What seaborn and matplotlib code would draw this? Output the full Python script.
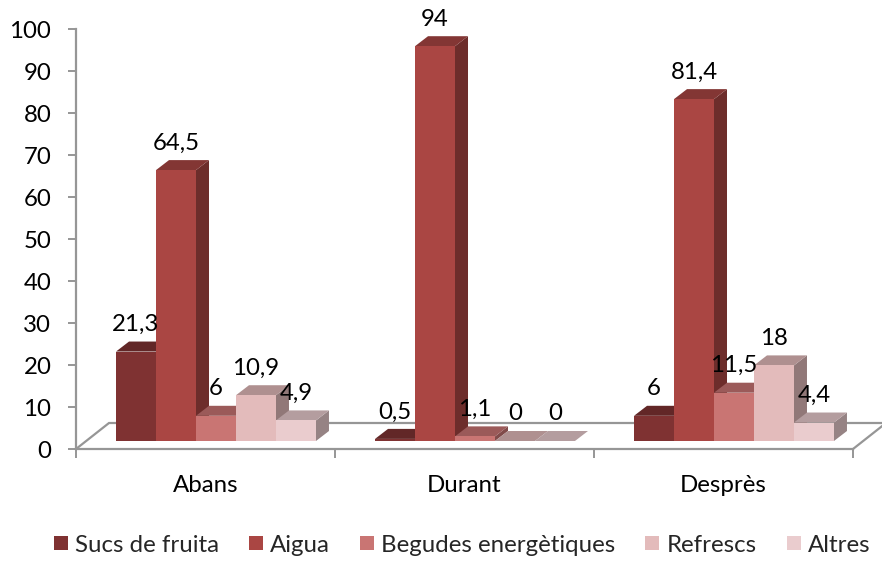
import pandas as pd
import seaborn as sns
import matplotlib.pyplot as plt
from matplotlib.colors import to_rgb
from matplotlib.patches import Polygon
from matplotlib.transforms import Affine2D

categories = ["Abans", "Durant", "Desprès"]
sucs = [21.3, 0.5, 6]
aigua = [64.5, 94, 81.4]
begudes = [6, 1.1, 11.5]
refrescs = [10.9, 0, 18]
altres = [4.9, 0, 4.4]
series_names = ["Sucs de fruita", "Aigua", "Begudes energètiques", "Refrescs", "Altres"]
colors = ["#7F3232", "#AA4643", "#C97573", "#E3BBBB", "#EACCCE"]
y_ticks = list(range(0, 101, 10))

GRAY = "#969696"
PX_X = 777 / 3  # pixels per category
PX_Y = 4.2      # pixels per y unit
FONT = 17.3


def shade(color, factor):
    return tuple(c * factor for c in to_rgb(color))


df = pd.DataFrame({
    "cat": categories * 5,
    "serie": [n for n in series_names for _ in categories],
    "val": sucs + aigua + begudes + refrescs + altres,
})

sns.set_style("white")
plt.rcParams['font.family'] = ['Lato', 'DejaVu Sans']

fig = plt.figure(figsize=(8.82, 5.65), dpi=100)
ax = fig.add_axes([76 / 882, (565 - 449) / 565, 777 / 882, 420 / 565])

sns.barplot(data=df, x="cat", y="val", hue="serie", order=categories, hue_order=series_names,
            palette=colors, saturation=1, width=0.772, gap=0, linewidth=0, ax=ax)

ax.set_xlim(-0.5, 2.5)
ax.set_ylim(0, 100)
ax.set_xlabel("")
ax.set_ylabel("")
ax.set_yticks(y_ticks)

# axes look: gray left/bottom lines, ticks outside
for side in ["top", "right"]:
    ax.spines[side].set_visible(False)
for side in ["left", "bottom"]:
    ax.spines[side].set_color(GRAY)
    ax.spines[side].set_linewidth(1.6)
ax.tick_params(axis='y', which='major', left=True, length=5.8, width=1.4, color=GRAY,
               labelsize=FONT, pad=12, labelcolor="black")
ax.tick_params(axis='x', which='major', bottom=False, labelsize=FONT, pad=15, labelcolor="black")
ax.set_xticks([-0.5, 0.5, 1.5, 2.5], minor=True)
ax.tick_params(axis='x', which='minor', bottom=True, length=6.5, width=1.4, color=GRAY)

# floor outline behind the bars
wall_dx = 33 / PX_X
wall_dy = 26 / PX_Y
ax.plot([-0.5, -0.5 + wall_dx, 2.5 + wall_dx, 2.5], [0, wall_dy, wall_dy, 0],
        color=GRAY, lw=1.6, clip_on=False, zorder=1, solid_joinstyle='miter')

# fake 3D: bars sit pushed back on the floor, side and top faces come from the bar geometry
push = ax.transData + Affine2D().translate(10.5, 8)
depth_x = 13 / PX_X
depth_y = 10 / PX_Y

bars = []
for container, color in zip(ax.containers, colors):
    for bar in container:
        bars.append((bar, color))
bars.sort(key=lambda b: b[0].get_x())

for i, (bar, color) in enumerate(bars):
    x0 = bar.get_x()
    x1 = x0 + bar.get_width()
    h = bar.get_height()
    bar.set_transform(push)
    bar.set_clip_on(False)
    bar.set_zorder(3 + i + 0.5)
    side = Polygon([(x1, 0), (x1 + depth_x, depth_y), (x1 + depth_x, h + depth_y), (x1, h)],
                   closed=True, facecolor=shade(color, 0.64), lw=0, transform=push,
                   clip_on=False, zorder=3 + i)
    top = Polygon([(x0, h), (x0 + depth_x, h + depth_y), (x1 + depth_x, h + depth_y), (x1, h)],
                  closed=True, facecolor=shade(color, 0.77), lw=0, transform=push,
                  clip_on=False, zorder=3 + i + 0.2)
    ax.add_patch(side)
    ax.add_patch(top)
    ax.annotate(f"{h:g}".replace(".", ","), (x0 + bar.get_width() / 2, h),
                xytext=(10.5, 8 + 27), textcoords='offset pixels', ha='center', va='center',
                fontsize=FONT, color="black", zorder=100, annotation_clip=False)

sns.move_legend(ax, "center", bbox_to_anchor=(462 / 882, (565 - 545) / 565), bbox_transform=fig.transFigure,
                ncol=5, frameon=False, title=None, fontsize=FONT, handlelength=0.58, handleheight=0.58,
                handletextpad=0.3, columnspacing=1.25, borderpad=0, borderaxespad=0)

fig.savefig("out.png", dpi=100)
plt.close(fig)
